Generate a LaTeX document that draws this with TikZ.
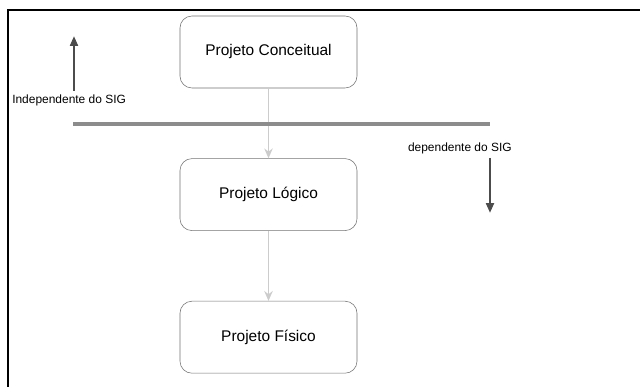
\documentclass[tikz,border=0pt]{standalone}
\usepackage{fontspec}
\setmainfont{Liberation Sans}
\usetikzlibrary{positioning,arrows.meta,calc}

\begin{document}
\begin{tikzpicture}[>=Stealth, x=0.025cm, y=-0.025cm, node distance=1.75cm]
  \useasboundingbox (0,0) rectangle (640,387);
  \tikzset{
    etapa/.style={draw=black!55, rounded corners=0.3cm, fill=white, minimum width=4.425cm, minimum height=1.8cm, font=\fontsize{11}{13}\selectfont},
    nota/.style={inner sep=0pt, font=\fontsize{8.5}{10}\selectfont},
    fluxo/.style={-{Stealth[length=7pt,width=6pt]}, black!20, line width=1.2pt},
    sentido/.style={-{Triangle[length=7pt,width=5.5pt]}, black!70, line width=1.7pt}
  }
  % moldura
  \draw[line width=1.6pt] (640,10) -- (8,10) -- (8,387);

  \node[etapa] (conc) at (268.5,52) {Projeto Conceitual};
  \node[etapa, below=of conc] (logico) {Projeto Lógico};
  \node[etapa, below=of logico] (fisico) {Projeto Físico};

  \draw[fluxo] (conc) -- (logico);
  \draw[fluxo] (logico) -- (fisico);

  % limite SIG
  \coordinate (lim-a) at (73,124);
  \coordinate (lim-b) at (490,124);
  \draw[black!45, line width=2.2pt] (lim-a) -- (lim-b);

  \node[nota, anchor=west] (indep) at (12,100) {Independente do SIG};
  \node[nota, anchor=east] (dep) at (512,148) {dependente do SIG};
  \coordinate (ind-a) at (74,91);
  \coordinate (ind-b) at (74,36);
  \coordinate (dep-a) at (490,158);
  \coordinate (dep-b) at (490,213);
  \draw[sentido] (ind-a) -- (ind-b);
  \draw[sentido] (dep-a) -- (dep-b);
\end{tikzpicture}
\end{document}
